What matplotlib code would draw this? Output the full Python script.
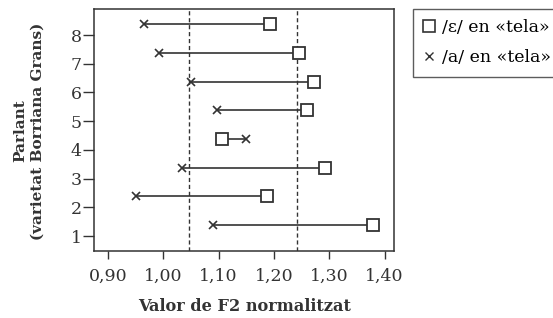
import matplotlib
matplotlib.use("Agg")
import matplotlib.pyplot as plt
from matplotlib.lines import Line2D

speakers = [1, 2, 3, 4, 5, 6, 7, 8]
f2_e = [1.380, 1.187, 1.292, 1.107, 1.259, 1.272, 1.245, 1.193]   # /ɛ/ en «tela»
f2_a = [1.089, 0.950, 1.033, 1.149, 1.097, 1.050, 0.993, 0.965]   # /a/ en «tela»
ref_lines = [1.046, 1.241]
xticks = [0.90, 1.00, 1.10, 1.20, 1.30, 1.40]
xtick_labels = ["0,90", "1,00", "1,10", "1,20", "1,30", "1,40"]

plt.rcParams['font.family'] = ['DejaVu Serif']
col = '#333333'

fig = plt.figure(figsize=(5.53, 3.18), dpi=100)
ax = fig.add_axes([0.170, 0.2116, 0.543, 0.760])

yoff = 0.38
for s, e, a in zip(speakers, f2_e, f2_a):
    ax.plot([e, a], [s + yoff, s + yoff], color=col, lw=1.2, zorder=2)
ax.plot(f2_e, [s + yoff for s in speakers], ls='none', marker='s', ms=9,
        mfc='white', mec=col, mew=1.3, zorder=3)
ax.plot(f2_a, [s + yoff for s in speakers], ls='none', marker='x', ms=6,
        mec=col, mew=1.2, zorder=3)

for v in ref_lines:
    ax.axvline(v, color=col, ls=(0, (3, 2)), lw=1.0, zorder=1)

ax.set_xlim(0.8747, 1.4177)
ax.set_ylim(0.488, 8.906)
ax.set_xticks(xticks)
ax.set_xticklabels(xtick_labels)
ax.set_yticks(speakers)
ax.tick_params(labelsize=12.5, colors=col, width=1.0)
ax.tick_params(axis='x', length=6, pad=6)
ax.tick_params(axis='y', length=8, pad=1)
for sp in ax.spines.values():
    sp.set_color(col)
    sp.set_linewidth(1.1)

ax.set_xlabel("Valor de F2 normalitzat", fontsize=11.6, fontweight='bold', color=col)
ax.xaxis.set_label_coords(0.5, -0.195)
ax.set_ylabel("Parlant\n(varietat Borriana Grans)", fontsize=11, fontweight='bold', color=col,
              linespacing=1.35)
ax.yaxis.set_label_coords(-0.163, 0.495)

handles = [Line2D([], [], ls='none', marker='s', ms=9, mfc='white', mec=col, mew=1.2),
           Line2D([], [], ls='none', marker='x', ms=6, mec=col, mew=1.0)]
fig.legend(handles, ["/ɛ/ en «tela»", "/a/ en «tela»"], loc='upper left',
           bbox_to_anchor=(0.747, 0.972), fontsize=12.5, frameon=True, fancybox=False,
           edgecolor=col, handlelength=0.6, handletextpad=0.45, borderpad=0.6,
           labelspacing=0.75, borderaxespad=0)

fig.savefig("out.png", dpi=100)
